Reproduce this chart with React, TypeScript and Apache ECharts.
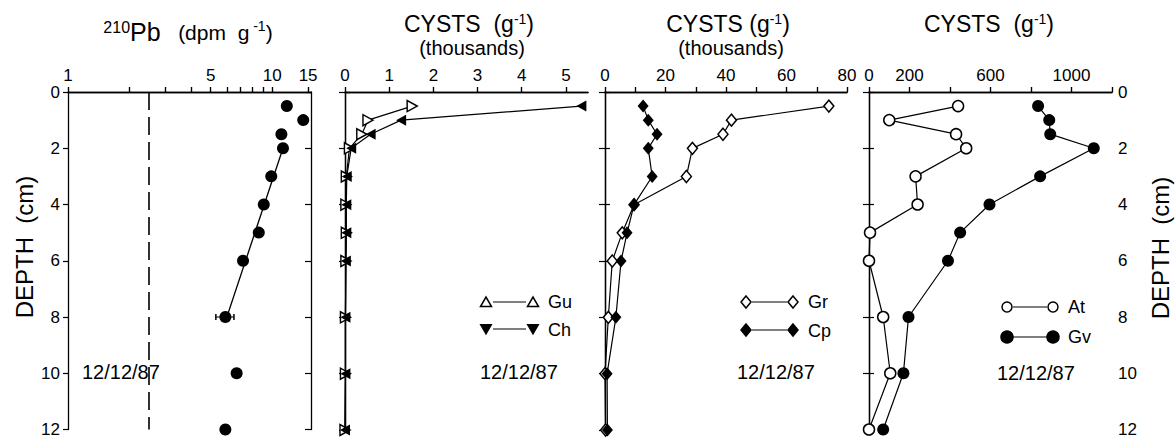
import React, { useEffect, useRef } from 'react';
import * as echarts from 'echarts';

// ---- data ----
const depths = [0.5, 1, 1.5, 2, 3, 4, 5, 6, 8, 10, 12];
const pb210 = [11.8, 14.2, 11.1, 11.3, 9.9, 9.1, 8.6, 7.2, 5.9, 6.7, 5.9];
const pbFitDepths = [2, 8];
const pbFitValues = [11.3, 6.0];
const pbErrorDepth = 8;
const pbErrorRange = [5.3, 6.5];
const pbBackground = 2.5;
const gu = [1.52, 0.52, 0.38, 0.1, 0.03, 0.02, 0.03, 0.02, 0.01, 0.01, 0];
const ch = [5.35, 1.27, 0.58, 0.14, 0.04, 0.03, 0.03, 0.02, 0.01, 0.01, 0];
const gr = [74, 41.8, 39, 28.9, 26.9, 9.6, 5.7, 2.4, 1.1, 0, 0.2];
const cp = [12.6, 14.3, 17.2, 14.3, 15.6, 9.6, 7.3, 5.3, 3.6, 0.7, 0.8];
const at = [440, 100, 430, 480, 230, 240, 5, 0, 70, 105, 0];
const gv = [835, 890, 895, 1110, 845, 595, 450, 390, 195, 170, 70];

const pbLabels = [1, 5, 10, 15];
const pbTicks = [1, 2, 3, 4, 5, 6, 7, 8, 9, 10, 15];
const p2Labels = [0, 1, 2, 3, 4, 5];
const p3Labels = [0, 20, 40, 60, 80];
const p3Ticks = [0, 10, 20, 30, 40, 50, 60, 70, 80];
const p4Labels = [0, 200, 600, 1000];
const p4Ticks = [0, 200, 400, 600, 800, 1000, 1200];
const dateLabel = '12/12/87';

const FONT = 'Liberation Sans';
const BLACK = '#000';

const grids = [
  { left: 68, width: 243 },
  { left: 345, width: 243 },
  { left: 605, width: 242 },
  { left: 869, width: 243 },
];

function pairs(values: number[]) {
  return depths.map((d, i) => [values[i], d]);
}

export default function App() {
  const ref = useRef<HTMLDivElement>(null);
  useEffect(() => {
    if (!ref.current) return;
    const chart = echarts.init(ref.current, undefined, { renderer: 'svg' });

    const axisLine = { show: true, lineStyle: { color: BLACK, width: 1.3 } };
    const labelStyle = {
      color: BLACK,
      fontSize: 17,
      fontFamily: FONT,
      margin: 8,
      formatter: (v: any) => String(Math.round(Number(v) * 1000) / 1000),
    };

    const xDefs = [
      { type: 'log', logBase: 10, min: 1, max: 15.5, labels: pbLabels, ticks: pbTicks },
      { type: 'value', min: 0, max: 5.5, labels: p2Labels, ticks: p2Labels },
      { type: 'value', min: 0, max: 80, labels: p3Labels, ticks: p3Ticks },
      { type: 'value', min: 0, max: 1200, labels: p4Labels, ticks: p4Ticks },
    ];
    const xAxis: any[] = [];
    xDefs.forEach((d, g) => {
      const base: any = {
        type: d.type,
        gridIndex: g,
        min: d.min,
        max: d.max,
        splitLine: { show: false },
        minorTick: { show: false },
        axisLine,
      };
      if (d.type === 'log') base.logBase = d.logBase;
      xAxis.push({
        ...base,
        position: 'top',
        axisLabel: { ...labelStyle, customValues: d.labels },
        axisTick: { show: true, inside: false, length: 5, customValues: d.ticks, lineStyle: { color: BLACK, width: 1.2 } },
      });
      xAxis.push({
        ...base,
        position: 'bottom',
        axisLabel: { show: false },
        axisTick: { show: true, inside: true, length: 5, customValues: d.ticks, lineStyle: { color: BLACK, width: 1.2 } },
      });
    });

    const yAxis: any[] = [];
    for (let g = 0; g < 4; g++) {
      const base: any = {
        type: 'value',
        gridIndex: g,
        min: 0,
        max: 12,
        interval: 2,
        inverse: true,
        splitLine: { show: false },
        axisLine,
      };
      yAxis.push({
        ...base,
        position: 'left',
        axisLabel: g === 0 ? { ...labelStyle, margin: 8 } : { show: false },
        axisTick: { show: true, inside: g !== 0, length: 5, lineStyle: { color: BLACK, width: 1.2 } },
      });
      yAxis.push({
        ...base,
        position: 'right',
        axisLabel: g === 3 ? { ...labelStyle, margin: 6 } : { show: false },
        axisTick: { show: true, inside: true, length: 6, lineStyle: { color: BLACK, width: 1.2 } },
      });
    }

    const lineSeries = (name: string, values: number[], g: number, symbol: string, open: boolean, size: any, rotate = 0) => ({
      name,
      type: 'line',
      xAxisIndex: 2 * g,
      yAxisIndex: 2 * g,
      data: pairs(values),
      symbol,
      symbolSize: size,
      symbolRotate: rotate,
      showSymbol: true,
      lineStyle: { color: BLACK, width: 1.2 },
      itemStyle: open
        ? { color: '#fff', borderColor: BLACK, borderWidth: 1.5, opacity: 1 }
        : { color: BLACK, borderColor: BLACK, borderWidth: 0, opacity: 1 },
      z: open ? 3 : 4,
    });

    const series: any[] = [
      {
        name: '210Pb',
        type: 'scatter',
        xAxisIndex: 0,
        yAxisIndex: 0,
        data: pairs(pb210),
        symbol: 'circle',
        symbolSize: 12,
        itemStyle: { color: BLACK, opacity: 1 },
        z: 4,
        markLine: {
          silent: true,
          symbol: 'none',
          label: { show: false },
          lineStyle: { color: BLACK, width: 1.6, type: [18, 7], opacity: 1 },
          data: [{ xAxis: pbBackground }],
        },
      },
      {
        name: 'fit',
        type: 'line',
        xAxisIndex: 0,
        yAxisIndex: 0,
        data: pbFitDepths.map((d, i) => [pbFitValues[i], d]),
        showSymbol: false,
        symbol: 'none',
        lineStyle: { color: BLACK, width: 1.3 },
      },
      {
        name: 'error',
        type: 'line',
        xAxisIndex: 0,
        yAxisIndex: 0,
        data: pbErrorRange.map((v) => [v, pbErrorDepth]),
        symbol: 'rect',
        symbolSize: [1.5, 6],
        itemStyle: { color: BLACK },
        lineStyle: { color: BLACK, width: 1 },
      },
      lineSeries('Gu', gu, 1, 'triangle', true, [11, 10], -90),
      lineSeries('Ch', ch, 1, 'triangle', false, [11, 10], 90),
      lineSeries('Gr', gr, 2, 'diamond', true, [10, 12]),
      lineSeries('Cp', cp, 2, 'diamond', false, [11, 13]),
      lineSeries('At', at, 3, 'circle', true, 11),
      lineSeries('Gv', gv, 3, 'circle', false, 12),
    ];

    const txt = (x: number, y: number, text: string, fontSize: number, align = 'left', extra: any = {}) => ({
      type: 'text',
      x,
      y,
      ...extra,
      style: {
        text,
        fill: BLACK,
        fontSize,
        fontFamily: FONT,
        align,
        textAlign: align,
        verticalAlign: 'middle',
        textVerticalAlign: 'middle',
        ...(extra.style || {}),
      },
    });

    const richTitle = (x: number, y: number, text: string) => ({
      type: 'text',
      x,
      y,
      style: {
        text,
        fill: BLACK,
        fontFamily: FONT,
        align: 'center',
        textAlign: 'center',
        verticalAlign: 'middle',
        textVerticalAlign: 'middle',
        rich: {
          m: { fontSize: 23, fontFamily: FONT, lineHeight: 24, fill: BLACK, color: BLACK },
          p: { fontSize: 21, fontFamily: FONT, lineHeight: 26, fill: BLACK, color: BLACK },
          P: { fontSize: 25, fontFamily: FONT, lineHeight: 26, fill: BLACK, color: BLACK },
          s: { fontSize: 14, fontFamily: FONT, lineHeight: 14, verticalAlign: 'top', fill: BLACK, color: BLACK },
          t: { fontSize: 16, fontFamily: FONT, lineHeight: 14, verticalAlign: 'top', fill: BLACK, color: BLACK },
        },
      },
    });

    const triUp = (cx: number, cy: number, filled: boolean) => ({
      type: 'polygon',
      shape: { points: [[cx - 5.5, cy + 4.5], [cx + 5.5, cy + 4.5], [cx, cy - 5]] },
      style: { fill: filled ? BLACK : '#fff', stroke: BLACK, lineWidth: 1.5 },
    });
    const triDown = (cx: number, cy: number) => ({
      type: 'polygon',
      shape: { points: [[cx - 5.5, cy - 4.5], [cx + 5.5, cy - 4.5], [cx, cy + 5]] },
      style: { fill: BLACK, stroke: BLACK, lineWidth: 1.2 },
    });
    const diamond = (cx: number, cy: number, filled: boolean) => ({
      type: 'polygon',
      shape: { points: [[cx, cy - 6], [cx + 5, cy], [cx, cy + 6], [cx - 5, cy]] },
      style: { fill: filled ? BLACK : '#fff', stroke: BLACK, lineWidth: 1.5 },
    });
    const circ = (cx: number, cy: number, filled: boolean) => ({
      type: 'circle',
      shape: { cx, cy, r: filled ? 6 : 5 },
      style: { fill: filled ? BLACK : '#fff', stroke: BLACK, lineWidth: 1.5 },
    });
    const seg = (x1: number, x2: number, y: number) => ({
      type: 'line',
      shape: { x1, y1: y, x2, y2: y },
      style: { stroke: BLACK, lineWidth: 1.2 },
    });

    const graphic: any[] = [
      richTitle(188, 32, '{t|210}{P|Pb}{p|   (dpm  g}{s| -1}{p|)}'),
      richTitle(469, 24, '{m|CYSTS  (g}{s|-1}{m|)}'),
      txt(472, 48, '(thousands)', 20, 'center'),
      richTitle(728, 24, '{m|CYSTS (g}{s|-1}{m|)}'),
      txt(731, 48, '(thousands)', 20, 'center'),
      richTitle(989, 24, '{m|CYSTS  (g}{s|-1}{m|)}'),
      // legends panel 2
      triUp(486, 302, false), seg(493, 526, 302), triUp(533, 302, false), txt(548, 302, 'Gu', 18),
      triDown(486, 329), seg(493, 526, 329), triDown(533, 329), txt(548, 330, 'Ch', 18),
      // legends panel 3
      diamond(746, 302, false), seg(752, 787, 302), diamond(793, 302, false), txt(808, 302, 'Gr', 18),
      diamond(746, 330, true), seg(752, 787, 330), diamond(793, 330, true), txt(808, 331, 'Cp', 18),
      // legends panel 4
      circ(1007, 307, false), seg(1013, 1047, 307), circ(1053, 307, false), txt(1068, 307, 'At', 18),
      circ(1007, 337, true), seg(1013, 1047, 337), circ(1053, 337, true), txt(1068, 337, 'Gv', 18),
      // dates
      txt(82, 372, dateLabel, 20),
      txt(480, 372, dateLabel, 20),
      txt(737, 372, dateLabel, 20),
      txt(997, 373, dateLabel, 20),
      // depth titles
      txt(24, 247, 'DEPTH  (cm)', 24, 'center', { rotation: Math.PI / 2 }),
      txt(1160, 248, 'DEPTH  (cm)', 24, 'center', { rotation: Math.PI / 2 }),
    ];

    chart.setOption({
      animation: false,
      backgroundColor: '#fff',
      textStyle: { fontFamily: FONT, color: BLACK },
      grid: grids.map((g) => ({ left: g.left, width: g.width, top: 92, height: 338, containLabel: false })),
      xAxis,
      yAxis,
      series,
      graphic,
    });

    return () => chart.dispose();
  }, []);

  return <div ref={ref} style={{ position: 'absolute', left: 0, top: 0, width: 1175, height: 438 }} />;
}
